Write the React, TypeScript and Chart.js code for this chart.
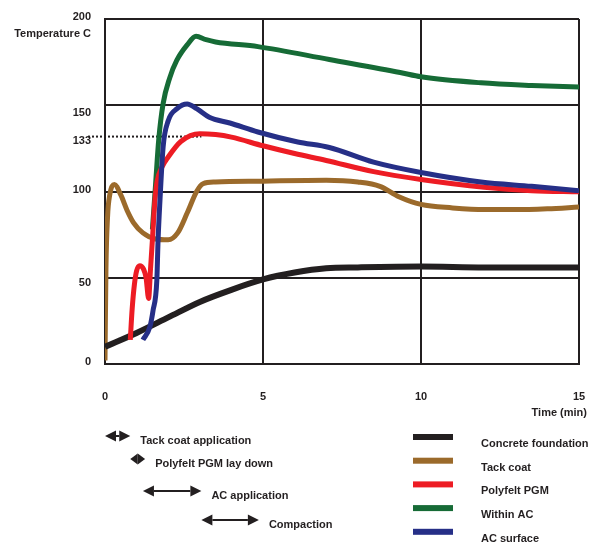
import { useEffect, useRef } from 'react';
import { Chart, registerables } from 'chart.js';

Chart.register(...registerables);

// ---- data ----
const seriesNames = ['Concrete foundation', 'Tack coat', 'Polyfelt PGM', 'Within AC', 'AC surface'];
const seriesColors = ['#231f20', '#9b6a2b', '#ed1c24', '#166b36', '#262f87'];

const concreteTime = [0, 1, 2, 3, 4, 5, 6, 7, 8, 10, 12, 15];
const concreteTemp = [10, 18, 27, 36, 43, 49, 53, 55.5, 56, 56.5, 56, 56];

const tackTime = [0, 0.03, 0.08, 0.15, 0.3, 0.5, 0.7, 0.9, 1.2, 1.6, 2.0, 2.3, 2.6, 2.9, 3.1, 3.5, 5, 7, 8, 8.7, 9.3, 10, 11, 12, 13, 14, 15];
const tackTemp = [2, 55, 85, 98, 104, 98, 89, 82, 76, 72.5, 72, 76, 87.5, 100, 104.5, 105.5, 106, 106.5, 105.5, 103, 97, 92.5, 90.5, 89.5, 89.5, 90, 91];

const pgmTime = [0.8, 0.86, 0.93, 1.0, 1.1, 1.22, 1.3, 1.38, 1.44, 1.5, 1.58, 1.65, 1.8, 2.0, 2.4, 3.0, 3.5, 4, 5, 6, 7, 8.5, 10, 12, 13.5, 15];
const pgmTemp = [14, 32, 46, 54, 57, 55, 50, 38, 55, 72, 95, 106, 114, 120, 129, 133.5, 133, 131.5, 126.5, 122, 118, 111.5, 107, 102.5, 100.5, 99.8];

const withinTime = [1.5, 1.6, 1.7, 1.84, 2.05, 2.27, 2.6, 2.88, 3.2, 3.5, 4.84, 7.1, 9.34, 10, 11.9, 13.5, 15];
const withinTemp = [78, 104, 130, 151, 166, 176, 185, 190, 188, 186.7, 184, 176.5, 169, 166.5, 163, 161.5, 160.6];

const surfaceTime = [1.2, 1.42, 1.52, 1.64, 1.68, 1.74, 1.84, 2.0, 2.28, 2.6, 2.9, 3.3, 3.95, 4.84, 6.1, 7.1, 8.5, 10, 11.9, 13.5, 15];
const surfaceTemp = [14, 21.5, 31, 48.5, 72, 95, 126, 141, 148, 150.7, 148, 143, 139.7, 134.5, 128.7, 125.5, 117, 111, 105.5, 103, 100.5];

const xTicks = [0, 5, 10, 15];
const yTicks = [0, 50, 100, 133, 150, 200];
const yTitle = 'Temperature C';
const xTitle = 'Time (min)';
const referenceTemp = 133;
const referenceEnd = 3.05;

const phaseLabels = ['Tack coat application', 'Polyfelt PGM lay down', 'AC application', 'Compaction'];
const phaseStart = [0, 0.8, 1.2, 3.05];
const phaseEnd = [0.8, 1.27, 3.05, 4.87];

const seriesTimes = [concreteTime, tackTime, pgmTime, withinTime, surfaceTime];
const seriesTemps = [concreteTemp, tackTemp, pgmTemp, withinTemp, surfaceTemp];
const drawOrder = [4, 5, 2, 3, 1];
const lineWidths = [6, 5, 5, 5, 5];
// vertical nudge (px) of each y tick label, as placed in the original artwork
const yLabelShift = [-2, 5, -2, 6, 8, -2];

const INK = '#231f20';
const FONT = 'bold 11px "Liberation Sans", Arial, sans-serif';

function drawArrow(ctx: CanvasRenderingContext2D, x1: number, x2: number, y: number) {
  const w = x2 - x1;
  const head = Math.min(11, w / 2);
  const hh = 5.5;
  ctx.strokeStyle = INK;
  ctx.fillStyle = INK;
  ctx.lineWidth = 2;
  ctx.beginPath();
  ctx.moveTo(x1 + head, y);
  ctx.lineTo(x2 - head, y);
  ctx.stroke();
  ctx.beginPath();
  ctx.moveTo(x1, y);
  ctx.lineTo(x1 + head, y - hh);
  ctx.lineTo(x1 + head, y + hh);
  ctx.closePath();
  ctx.fill();
  ctx.beginPath();
  ctx.moveTo(x2, y);
  ctx.lineTo(x2 - head, y - hh);
  ctx.lineTo(x2 - head, y + hh);
  ctx.closePath();
  ctx.fill();
}

const decorPlugin = {
  id: 'decor',
  beforeDatasetsDraw(chart: any) {
    const ctx = chart.ctx as CanvasRenderingContext2D;
    const xs = chart.scales.x;
    const ys = chart.scales.y;
    const y = ys.getPixelForValue(referenceTemp) + 2;
    ctx.save();
    ctx.strokeStyle = INK;
    ctx.lineWidth = 2;
    ctx.setLineDash([2, 2]);
    ctx.beginPath();
    ctx.moveTo(chart.chartArea.left - 17, y);
    ctx.lineTo(xs.getPixelForValue(referenceEnd), y);
    ctx.stroke();
    ctx.restore();
  },
  afterDraw(chart: any) {
    const ctx = chart.ctx as CanvasRenderingContext2D;
    const xs = chart.scales.x;
    const ys = chart.scales.y;
    const area = chart.chartArea;
    ctx.save();
    ctx.font = FONT;
    ctx.fillStyle = INK;
    ctx.textBaseline = 'middle';
    // y tick labels
    ctx.textAlign = 'right';
    yTicks.forEach((v, i) => {
      ctx.fillText(String(v), area.left - 14, ys.getPixelForValue(v) + yLabelShift[i]);
    });
    // axis titles
    ctx.fillText(yTitle, area.left - 14, 34);
    ctx.fillText(xTitle, area.right + 8, area.bottom + 49);
    // phases
    const rowY = [436, 459, 491, 520];
    ctx.textAlign = 'left';
    phaseLabels.forEach((label, i) => {
      const x1 = xs.getPixelForValue(phaseStart[i]);
      const x2 = xs.getPixelForValue(phaseEnd[i]);
      drawArrow(ctx, x1, x2, rowY[i]);
      ctx.fillStyle = INK;
      ctx.fillText(label, x2 + 10, rowY[i] + 5);
    });
    // legend
    chart.data.datasets.forEach((ds: any, i: number) => {
      const y = 437 + i * 23.7;
      ctx.fillStyle = ds.borderColor;
      ctx.fillRect(413, y - 3, 40, 6);
      ctx.fillStyle = INK;
      ctx.fillText(ds.label, 481, y + 7);
    });
    ctx.restore();
  },
};

export default function App() {
  const ref = useRef<HTMLCanvasElement | null>(null);
  useEffect(() => {
    if (!ref.current) return;
    const datasets = seriesNames.map((name, i) => ({
      label: name,
      data: seriesTimes[i].map((t, j) => ({ x: t, y: seriesTemps[i][j] })),
      borderColor: seriesColors[i],
      backgroundColor: seriesColors[i],
      borderWidth: lineWidths[i],
      pointRadius: 0,
      fill: false,
      cubicInterpolationMode: 'monotone' as const,
      order: drawOrder[i],
      borderCapStyle: 'butt' as const,
    }));
    const tickFont = { family: '"Liberation Sans", Arial, sans-serif', size: 11, weight: 'bold' as const };
    const chart = new Chart(ref.current, {
      type: 'line',
      data: { datasets },
      options: {
        animation: false,
        responsive: false,
        devicePixelRatio: 1,
        layout: { padding: { left: 0, right: 15, top: 19, bottom: 0 } },
        plugins: { legend: { display: false }, tooltip: { enabled: false } },
        scales: {
          x: {
            type: 'linear',
            min: 0,
            max: 15,
            afterBuildTicks: (s: any) => {
              s.ticks = xTicks.map((v) => ({ value: v }));
            },
            afterFit: (s: any) => {
              s.height = 178;
            },
            grid: { color: INK, lineWidth: 2, drawTicks: true, tickLength: 26, tickColor: 'rgba(0,0,0,0)' },
            border: { color: INK, width: 2 },
            ticks: { padding: 0, font: tickFont, color: INK, autoSkip: false, maxRotation: 0 },
          },
          y: {
            type: 'linear',
            min: 0,
            max: 200,
            afterBuildTicks: (s: any) => {
              s.ticks = yTicks.map((v) => ({ value: v }));
            },
            afterFit: (s: any) => {
              s.width = 105;
            },
            grid: {
              color: (c: any) => (c.tick && c.tick.value === referenceTemp ? 'rgba(0,0,0,0)' : INK),
              lineWidth: 2,
              drawTicks: false,
            },
            border: { color: INK, width: 2 },
            ticks: { display: false },
          },
        },
      },
      plugins: [decorPlugin],
    });
    return () => chart.destroy();
  }, []);
  return (
    <div style={{ position: 'absolute', left: 0, top: 0, width: 594, height: 542, background: '#fff' }}>
      <canvas ref={ref} width={594} height={542} style={{ width: 594, height: 542, display: 'block' }} />
    </div>
  );
}
